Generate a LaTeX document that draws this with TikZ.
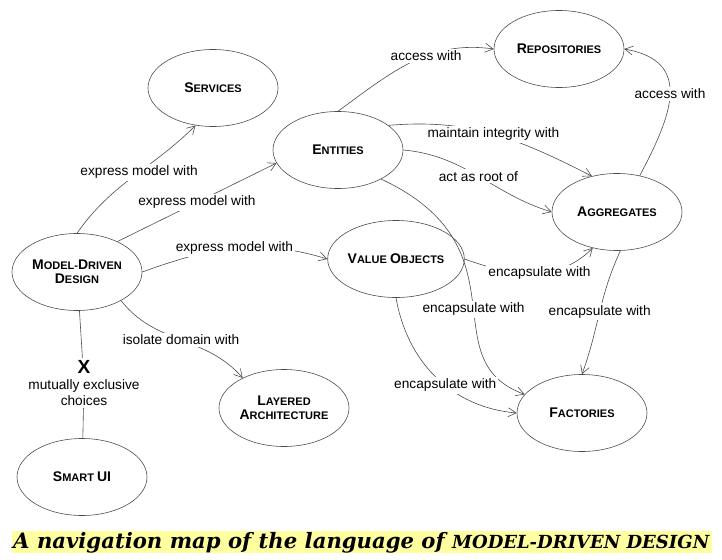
\documentclass[tikz,border=0pt]{standalone}
\usepackage{fontspec}
\setmainfont{Liberation Sans}
\setsansfont{Liberation Sans}
\newfontfamily\capfont{DejaVu Serif}
\usetikzlibrary{shapes.geometric,arrows.meta}
\definecolor{capbg}{RGB}{255,255,160}
\newcommand{\bc}[1]{{\fontsize{14}{14}\selectfont #1}}
\tikzset{
  concept/.style={ellipse, draw=black!70, line width=0.6pt, minimum width=130pt, minimum height=77pt, inner sep=0pt, align=center, font=\fontsize{11}{14}\selectfont\bfseries},
  rel/.style={draw=black!70, line width=0.6pt, -{Straight Barb[length=8pt,width=9pt]}},
  link/.style={draw=black!70, line width=0.6pt},
  lbl/.style={fill=white, inner sep=2pt, font=\fontsize{13.7}{16}\selectfont}
}
\begin{document}
\begin{tikzpicture}[x=1pt,y=1pt]
\useasboundingbox (0,0) rectangle (722,-559);
\node[concept] (svc) at (213,-88) {\bc{S}ERVICES};
\node[concept] (ent) at (338,-150) {\bc{E}NTITIES};
\node[concept] (rep) at (559,-49) {\bc{R}EPOSITORIES};
\node[concept] (agg) at (617,-212) {\bc{A}GGREGATES};
\node[concept] (mdd) at (77,-272) {\bc{M}ODEL-\bc{D}RIVEN\\\bc{D}ESIGN};
\node[concept] (vo) at (396,-259) {\bc{V}ALUE \bc{O}BJECTS};
\node[concept] (lay) at (284,-408) {\bc{L}AYERED\\\bc{A}RCHITECTURE};
\node[concept] (smart) at (82,-477) {\bc{S}MART \bc{UI}};
\node[concept] (fac) at (582,-413) {\bc{F}ACTORIES};
\node[align=center, inner sep=2pt, font=\fontsize{13.7}{16}\selectfont] (excl) at (84,-383) {{\fontsize{19}{19}\selectfont\bfseries X}\\mutually exclusive\\choices};
\draw[rel] (mdd.north) to[out=55,in=225] node[lbl,pos=0.55] {express model with} (svc.-115);
\draw[rel] (mdd.37) -- node[lbl] {express model with} (ent.192);
\draw[rel] (mdd.east) to[out=20,in=163] node[lbl] {express model with} (vo.west);
\draw[rel] (mdd.-33) to[out=-52,in=131] node[lbl] {isolate domain with} (lay.144);
\draw[link] (mdd) -- (excl) -- (smart);
\draw[rel] (ent.north) to[out=36,in=172] node[lbl,pos=0.6] {access with} (rep.west);
\draw[rel] (ent.26) to[out=5,in=153] node[lbl] {maintain integrity with} (agg.125);
\draw[rel] (ent.east) to[out=-5,in=163] node[lbl] {act as root of} (agg.west);
\draw[rel] (agg.58) to[out=62,in=-10,looseness=1.4] node[lbl] {access with} (rep.east);
\draw[rel] (vo.east) to[out=-20,in=225] node[lbl,pos=0.55] {encapsulate with} (agg.236);
\draw[rel] (agg.-85) to[out=-115,in=70] node[lbl] {encapsulate with} (fac.north);
\draw[rel] (ent.-34) to[out=-25,in=160,out looseness=1.6] node[lbl,pos=0.54] {encapsulate with} (fac.162);
\draw[rel] (vo.south) to[out=-80,in=175] node[lbl,pos=0.57] {encapsulate with} (fac.west);
\fill[capbg] (12,-531) rectangle (712,-553);
\node[inner sep=0pt, anchor=base west] (cap) at (13,-548) {\resizebox{696pt}{!}{\capfont\bfseries\itshape\fontsize{20}{20}\selectfont A navigation map of the language of {\fontsize{17}{17}\selectfont MODEL-DRIVEN DESIGN}}};
\end{tikzpicture}
\end{document}
